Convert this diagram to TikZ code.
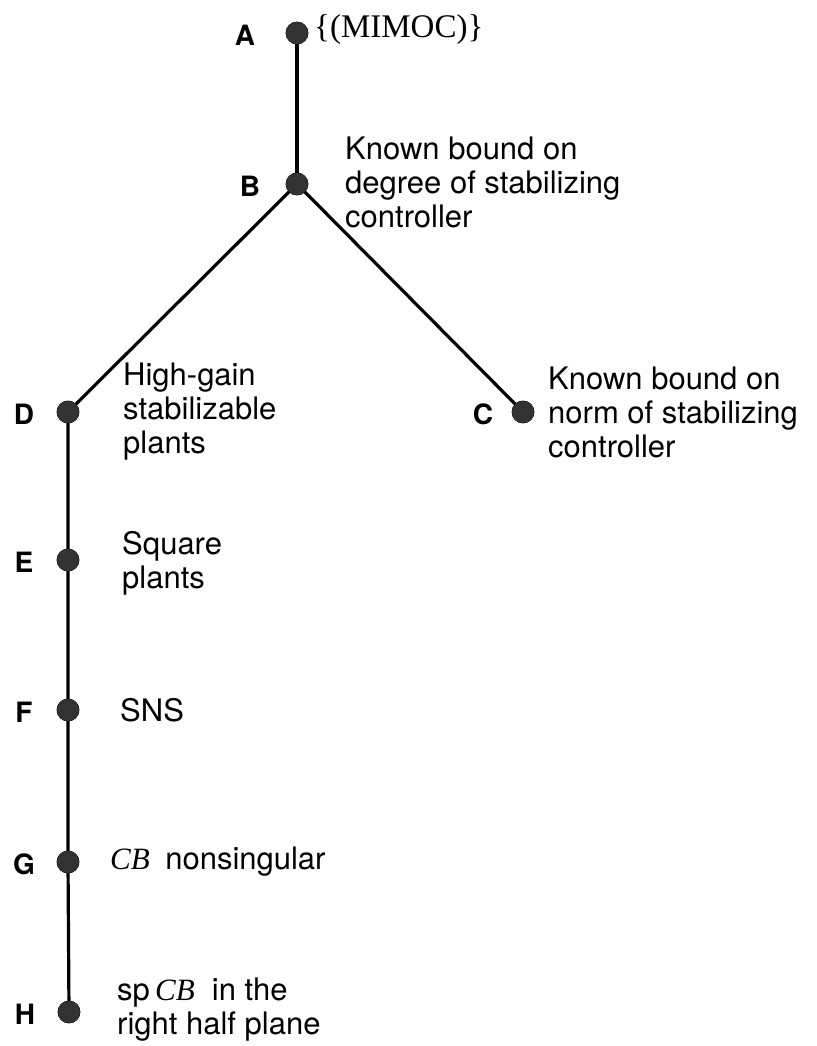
\documentclass[tikz,border=0pt]{standalone}
\usepackage{fontspec}
\setmainfont{Liberation Serif}
\setsansfont{TeX Gyre Heros}
\begin{document}
\begin{tikzpicture}[x=1pt,y=-1pt,
  dot/.style={circle,fill=black!80,draw=black,line width=0.8pt,minimum size=22pt,inner sep=0pt},
  lbl/.style={font=\sffamily\bfseries\fontsize{28}{30}\selectfont,inner sep=0pt},
  txt/.style={font=\sffamily\fontsize{31}{34}\selectfont,align=left,anchor=west,inner sep=0pt},
  edge/.style={line width=3.2pt}]
\useasboundingbox (0,0) rectangle (816,1046);
% dots
\node[dot] (A) at (297,33) {};
\node[dot] (B) at (297,184) {};
\node[dot] (D) at (68,412) {};
\node[dot] (C) at (523,412) {};
\node[dot] (E) at (68,560) {};
\node[dot] (F) at (68,710) {};
\node[dot] (G) at (68,862) {};
\node[dot] (H) at (69,1012) {};
% connectors
\draw[edge] (A.center) -- (B.center);
\draw[edge] (B.center) -- (D.center);
\draw[edge] (B.center) -- (C.center);
\draw[edge] (D.center) -- (E.center) -- (F.center) -- (G.center) -- (H.center);
% redraw dots on top
\foreach \n in {A,B,C,D,E,F,G,H}{\fill[black!80] (\n) circle (11pt);}
% letters
\node[lbl] (lA) at (245,35) {A};
\node[lbl] (lB) at (250,186) {B};
\node[lbl] (lD) at (24,414) {D};
\node[lbl] (lC) at (483,414) {C};
\node[lbl] (lE) at (24,562) {E};
\node[lbl] (lF) at (24,712) {F};
\node[lbl] (lG) at (24,864) {G};
\node[lbl] (lH) at (25,1014) {H};
% texts
\node[anchor=west,inner sep=0pt,font=\fontsize{33}{36}\selectfont] (tA) at (314,30) {\{(MIMOC)\}};
\node[txt] (tB) at (345,182) {Known bound on\\degree of stabilizing\\controller};
\node[txt] (tD) at (123,412) {High-gain\\stabilizable\\plants};
\node[txt] (tC) at (548,412) {Known bound on\\norm of stabilizing\\controller};
\node[txt] (tE) at (122,563) {Square\\plants};
\node[txt] (tF) at (120,710) {SNS};
\node[txt] (tG) at (110,862) {\rmfamily\itshape CB\ \ \sffamily\upshape nonsingular};
\node[txt] (tH) at (117,1010) {sp\,{\rmfamily\itshape CB}\ \ in the\\right half plane};
\end{tikzpicture}
\end{document}
